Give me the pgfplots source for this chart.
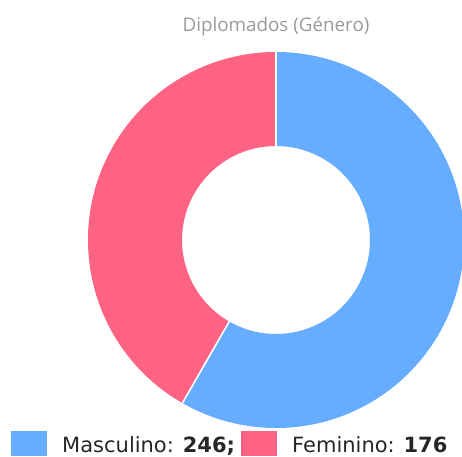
\documentclass[border=0pt]{standalone}
\usepackage{pgfplots}
\usepackage{pgfplotstable}
\usepackage{fontspec}
\usetikzlibrary{calc}
\pgfplotsset{compat=1.18}
\setmainfont{DejaVu Sans}
\newfontfamily\titlefont{Open Sans}
\definecolor{cblue}{HTML}{66ADFF}
\definecolor{cpink}{HTML}{FF6384}
\definecolor{ctitle}{HTML}{999999}
\pgfplotstableread{
label value
Masculino 246
Feminino 176
}\datatable
\pgfplotstablegetelem{0}{value}\of\datatable \let\vm\pgfplotsretval
\pgfplotstablegetelem{1}{value}\of\datatable \let\vf\pgfplotsretval
\pgfmathsetmacro\am{90-360*(\vm/(\vm+\vf))}
\def\cx{276}\def\cy{216}\def\ro{188}\def\ri{94}
\begin{document}
\begin{tikzpicture}
\begin{axis}[x=1pt,y=1pt,xmin=0,xmax=462,ymin=0,ymax=456,hide axis,clip=true,
  scale only axis, axis line style={draw=none}]
\fill[cblue] (axis cs:\cx,\cy+\ro) arc[start angle=90,end angle=\am,radius=\ro pt]
  -- ($(axis cs:\cx,\cy)+(\am:\ri pt)$) arc[start angle=\am,end angle=90,radius=\ri pt] -- cycle;
\fill[cpink] ($(axis cs:\cx,\cy)+(\am:\ro pt)$) arc[start angle=\am,end angle=-270,radius=\ro pt]
  -- (axis cs:\cx,\cy+\ri) arc[start angle=-270,end angle=\am,radius=\ri pt] -- cycle;
\draw[white,line width=1.6pt] (axis cs:\cx,\cy+\ri) -- (axis cs:\cx,\cy+\ro);
\draw[white,line width=1.6pt] ($(axis cs:\cx,\cy)+(\am:\ri pt)$) -- ($(axis cs:\cx,\cy)+(\am:\ro pt)$);
\node[text=ctitle,font=\titlefont\fontsize{18.8}{22}\selectfont] at (axis cs:276,429) {Diplomados (Género)};
\fill[cblue] (axis cs:11,0) rectangle (axis cs:47,25);
\fill[cpink] (axis cs:241,0) rectangle (axis cs:277,25);
\node[anchor=base west,inner sep=0pt,text=black!85,font=\fontsize{21}{25}\selectfont] at (axis cs:62,4) {Masculino: \textbf{246;}};
\node[anchor=base west,inner sep=0pt,text=black!85,font=\fontsize{21}{25}\selectfont] at (axis cs:292,4) {Feminino: \textbf{176}};
\end{axis}
\pgfresetboundingbox
\path[use as bounding box] (0,0) rectangle (462pt,456pt);
\end{tikzpicture}
\end{document}
